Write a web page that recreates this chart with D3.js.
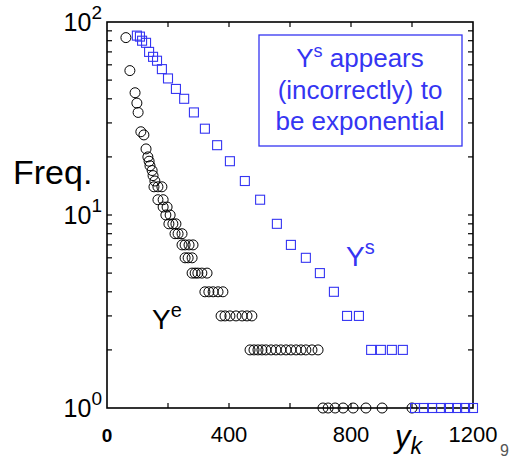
<!DOCTYPE html>
<html>
<head>
<meta charset="utf-8">
<script src="https://cdn.jsdelivr.net/npm/d3@7"></script>
<style>
  body { margin: 0; background: #fff; }
  svg { font-family: "Liberation Sans", Arial, sans-serif; }
</style>
</head>
<body>
<svg width="511" height="458"></svg>
<script>
// Y^e (circles): y_k value and frequency
const expX = [62, 75, 92, 98, 102, 111, 121, 128, 134, 138, 141, 148, 151, 157,
  154, 167, 180, 167, 184, 184, 197, 193, 207, 203, 216, 226, 223, 233, 246,
  246, 256, 269, 282, 256, 266, 279, 279, 289, 298, 311, 328,
  321, 334, 348, 364, 380, 374, 387, 403, 423, 443, 459, 475,
  469, 482, 495, 508, 521, 538, 554, 570, 587, 603, 620, 636, 652, 672, 692,
  708, 725, 748, 774, 807, 849, 902, 1000];
const expF = [83, 56, 43, 38, 34, 27, 26, 22, 20, 19, 18, 17, 16, 15,
  14, 14, 14, 12, 12, 11, 11, 10, 10, 9, 9, 9, 8, 8, 8,
  7, 7, 7, 7, 6, 6, 6, 5, 5, 5, 5, 5,
  4, 4, 4, 4, 4, 3, 3, 3, 3, 3, 3, 3,
  2, 2, 2, 2, 2, 2, 2, 2, 2, 2, 2, 2, 2, 2, 2,
  1, 1, 1, 1, 1, 1, 1, 1];

// Y^s (squares)
const simX = [98, 108, 115, 128, 138, 151, 164, 180, 200, 226, 253, 285, 321, 361,
  403, 452, 502, 557, 603, 652, 698, 744, 787, 826, 866, 898, 934, 970,
  1010, 1039, 1066, 1095, 1121, 1148, 1174, 1200];
const simF = [85, 84, 80, 78, 70, 66, 63, 57, 51, 45, 40, 34, 28, 23,
  19, 15, 12, 9, 7, 6, 5, 4, 3, 3, 2, 2, 2, 2,
  1, 1, 1, 1, 1, 1, 1, 1];

const xTickLabels = [0, 400, 800, 1200];
const yTickExps = [0, 1, 2];
const noteLines = ["appears", "(incorrectly) to", "be exponential"];

const blue = "#3535f2";
const svg = d3.select("svg");

const x = d3.scaleLinear().domain([0, 1200]).range([107, 473]);
const y = d3.scaleLog().domain([1, 100]).range([408, 22]);

// minor ticks on log axis
const logTicks = [];
for (let d = 1; d <= 10; d *= 10) {
  for (let m = 2; m <= 9; m++) logTicks.push(m * d);
}
logTicks.push(10);
const xTicks = [200, 400, 600, 800, 1000];

const frame = svg.append("g").attr("stroke", "#000").attr("stroke-width", 1.2);

// ticks
frame.selectAll(".ly").data(logTicks).join("line")
  .attr("x1", x(0)).attr("x2", x(0) + 5)
  .attr("y1", d => y(d)).attr("y2", d => y(d));
frame.selectAll(".ry").data(logTicks).join("line")
  .attr("x1", x(1200)).attr("x2", x(1200) - 5)
  .attr("y1", d => y(d)).attr("y2", d => y(d));
frame.selectAll(".tx").data(xTicks).join("line")
  .attr("x1", d => x(d)).attr("x2", d => x(d))
  .attr("y1", y(100)).attr("y2", y(100) + 5);
frame.selectAll(".bx").data(xTicks).join("line")
  .attr("x1", d => x(d)).attr("x2", d => x(d))
  .attr("y1", y(1)).attr("y2", y(1) - 5);

frame.append("rect")
  .attr("x", x(0)).attr("y", y(100))
  .attr("width", x(1200) - x(0)).attr("height", y(1) - y(100))
  .attr("fill", "none").attr("stroke-width", 1.6);

// y tick labels 10^n
yTickExps.forEach(e => {
  const t = svg.append("text")
    .attr("x", 102).attr("y", y(Math.pow(10, e)) + 9)
    .attr("text-anchor", "end")
    .attr("font-size", 25);
  t.append("tspan").text("10");
  t.append("tspan").attr("dy", -12).attr("font-size", 19).text(e);
});

// x tick labels
svg.selectAll(".xl").data(xTickLabels).join("text")
  .attr("x", d => x(d))
  .attr("y", 442)
  .attr("text-anchor", "middle")
  .attr("font-size", d => d === 0 ? 19 : 22)
  .attr("font-weight", d => d === 0 ? "bold" : "normal")
  .text(d => d);

// axis titles
svg.append("text").attr("x", 13).attr("y", 184)
  .attr("font-size", 34).text("Freq.");
const yk = svg.append("text").attr("x", 395).attr("y", 447)
  .attr("font-size", 31).attr("font-style", "italic");
yk.append("tspan").text("y");
yk.append("tspan").attr("dy", 7).attr("font-size", 23).text("k");
svg.append("text").attr("x", 500).attr("y", 456)
  .attr("font-size", 16).attr("fill", "#555").text("9");

// circles
svg.append("g").selectAll("circle")
  .data(expX.map((v, i) => [v, expF[i]]))
  .join("circle")
  .attr("cx", d => x(d[0]))
  .attr("cy", d => y(d[1]))
  .attr("r", 5)
  .attr("fill", "none")
  .attr("stroke", "#000")
  .attr("stroke-width", 1);

// squares
svg.append("g").selectAll("rect")
  .data(simX.map((v, i) => [v, simF[i]]))
  .join("rect")
  .attr("x", d => x(d[0]) - 4.5)
  .attr("y", d => y(d[1]) - 4.5)
  .attr("width", 9).attr("height", 9)
  .attr("fill", "none")
  .attr("stroke", blue)
  .attr("stroke-width", 1.1);

// series labels
const ye = svg.append("text").attr("x", 152).attr("y", 329).attr("font-size", 28);
ye.append("tspan").text("Y");
ye.append("tspan").attr("dy", -12).attr("font-size", 20).text("e");
const ys = svg.append("text").attr("x", 346).attr("y", 266)
  .attr("font-size", 28).attr("fill", blue);
ys.append("tspan").text("Y");
ys.append("tspan").attr("dy", -12).attr("font-size", 20).text("s");

// note box
svg.append("rect").attr("x", 259).attr("y", 35)
  .attr("width", 203).attr("height", 111)
  .attr("fill", "#fff").attr("stroke", blue).attr("stroke-width", 1.3);
const note = svg.append("g").attr("fill", blue).attr("font-size", 26)
  .attr("text-anchor", "middle");
const l1 = note.append("text").attr("x", 360).attr("y", 67);
l1.append("tspan").text("Y");
l1.append("tspan").attr("dy", -10).attr("font-size", 18).text("s");
l1.append("tspan").attr("dy", 10).text(" " + noteLines[0]);
note.append("text").attr("x", 360).attr("y", 99).text(noteLines[1]);
note.append("text").attr("x", 360).attr("y", 130).text(noteLines[2]);
</script>
</body>
</html>
